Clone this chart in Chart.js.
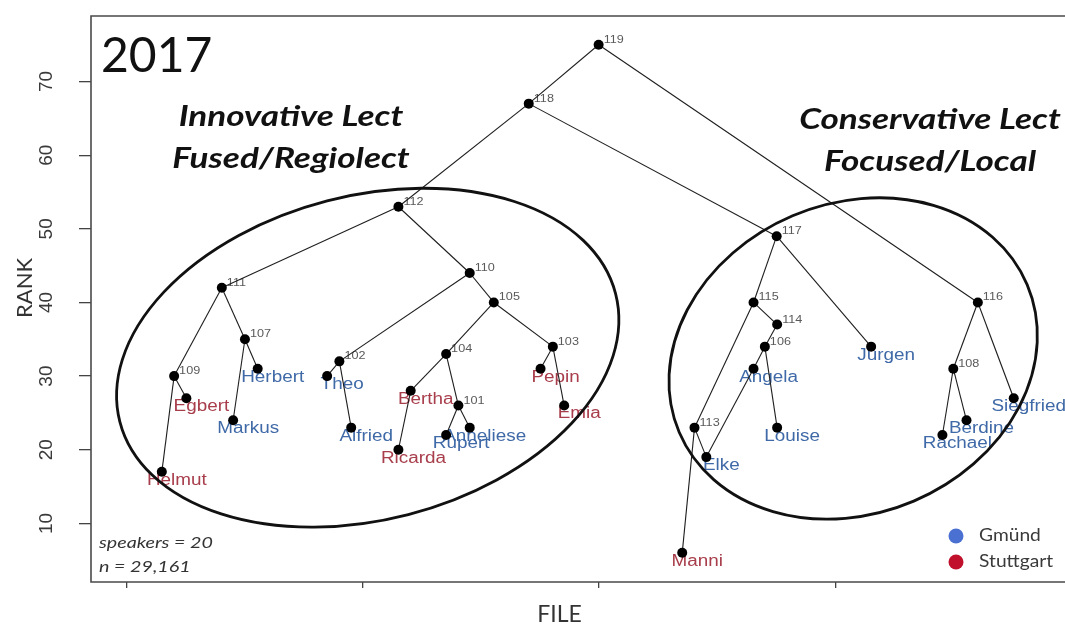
<!DOCTYPE html>
<html>
<head>
<meta charset="utf-8">
<script src="https://cdn.jsdelivr.net/npm/chart.js@4.4.1/dist/chart.umd.min.js"></script>
<style>
html,body{margin:0;padding:0;background:#fff;}
#wrap{width:1065px;height:627px;position:relative;}
</style>
</head>
<body>
<div id="wrap"><canvas id="c" width="1065" height="627"></canvas></div>
<script>
// ---------- data ----------
const leafNames  = ['Helmut','Egbert','Markus','Herbert','Theo','Alfried','Ricarda','Bertha','Rupert','Anneliese','Pepin','Emia','Manni','Elke','Angela','Louise','Jürgen','Rachael','Berdine','Siegfried'];
const leafRegion = ['Stuttgart','Stuttgart','Gmünd','Gmünd','Gmünd','Gmünd','Stuttgart','Stuttgart','Gmünd','Gmünd','Stuttgart','Stuttgart','Stuttgart','Gmünd','Gmünd','Gmünd','Gmünd','Gmünd','Gmünd','Gmünd'];
const leafFile   = [5.74,6.26,7.25,7.77,9.24,9.75,10.75,11.01,11.76,12.26,13.76,14.26,16.76,17.27,18.27,18.77,20.76,22.27,22.78,23.78];
const leafRank   = [17,27,24,31,30,23,20,28,22,23,31,26,6,19,31,23,34,22,24,27];

const nodeIds    = [101,102,103,104,105,106,107,108,109,110,111,112,113,114,115,116,117,118,119];
const nodeFile   = [12.02,9.50,14.02,11.76,12.77,18.51,7.50,22.50,6.00,12.26,7.01,10.75,17.02,18.77,18.27,23.02,18.76,13.51,14.99];
const nodeRank   = [26,32,34,33,40,34,35,31,30,44,42,53,23,37,40,40,49,67,75];

const edgeFrom = ['119','119','118','118','112','112','111','111','109','109','107','107','110','110','102','102','105','105','104','104','Bertha','101','101','103','103','117','117','115','115','114','106','106','Angela','113','113','116','116','108','108'];
const edgeTo   = ['118','116','112','117','111','110','109','107','Helmut','Egbert','Markus','Herbert','102','105','Theo','Alfried','104','103','Bertha','101','Ricarda','Rupert','Anneliese','Pepin','Emia','115','Jürgen','113','114','106','Angela','Louise','Elke','Manni','Elke','108','Siegfried','Rachael','Berdine'];

const xTicks = [5,10,15,20];
const yTicks = [10,20,30,40,50,60,70];
const regions = ['Gmünd','Stuttgart'];

const yearLabel = '2017';
const groupTitles = [['Innovative Lect','Fused/Regiolect'],['Conservative Lect','Focused/Local']];
const noteLines = ['speakers = 20','n = 29,161'];
const xTitle = 'FILE';
const yTitle = 'RANK';

// ---------- styles ----------
const regionTextColor = {'Gmünd':'#3f69a7','Stuttgart':'#a83d4b'};
const regionDotColor  = {'Gmünd':'#4a70d2','Stuttgart':'#c0102c'};
// ellipse specs: centre in data units, radii (px) and tilt
const ellipses = [
  {cx:10.1, cy:32.5, a:256, b:162, rot:-14.5},
  {cx:20.38, cy:32.4, a:189, b:155, rot:-23}
];

// ---------- build ----------
const lookup = {};
leafNames.forEach((n,i)=>{ lookup[n] = {x:leafFile[i], y:leafRank[i]}; });
nodeIds.forEach((id,i)=>{ lookup[String(id)] = {x:nodeFile[i], y:nodeRank[i]}; });

const edgeSets = edgeFrom.map((f,i)=>({
  type:'scatter',
  data:[{...lookup[f]},{...lookup[edgeTo[i]]}],
  showLine:true, borderColor:'#1e1e1e', borderWidth:1.1,
  pointRadius:0, pointHoverRadius:0, order:2
}));

const pointSet = {
  type:'scatter',
  data: nodeIds.map((id,i)=>({x:nodeFile[i],y:nodeRank[i]})).concat(leafNames.map((n,i)=>({x:leafFile[i],y:leafRank[i]}))),
  backgroundColor:'#000', borderWidth:0, pointRadius:5, pointHoverRadius:5, order:1
};

function stretchedText(ctx, txt, x, y, sx){
  ctx.save(); ctx.translate(x,y); ctx.scale(sx,1); ctx.fillText(txt,0,0); ctx.restore();
}

const overlay = {
  id:'overlay',
  beforeDatasetsDraw(chart){
    const ctx = chart.ctx, xs = chart.scales.x, ys = chart.scales.y;
    ctx.save();
    // leaf labels
    ctx.font = '16px "Liberation Sans", Arial, sans-serif';
    ctx.textAlign = 'center'; ctx.textBaseline = 'middle';
    leafNames.forEach((n,i)=>{
      const px = xs.getPixelForValue(leafFile[i]), py = ys.getPixelForValue(leafRank[i]);
      ctx.fillStyle = regionTextColor[leafRegion[i]];
      stretchedText(ctx, n, px+15, py+8.5, 1.18);
    });
    // node labels
    ctx.font = '11.5px "Liberation Sans", Arial, sans-serif';
    ctx.textAlign = 'left'; ctx.textBaseline = 'alphabetic';
    ctx.fillStyle = '#5a5a5a';
    nodeIds.forEach((id,i)=>{
      const px = xs.getPixelForValue(nodeFile[i]), py = ys.getPixelForValue(nodeRank[i]);
      stretchedText(ctx, String(id), px+5, py-2, 1.1);
    });
    ctx.restore();
  },
  afterDatasetsDraw(chart){
    const ctx = chart.ctx, xs = chart.scales.x, ys = chart.scales.y;
    ctx.save();
    ctx.strokeStyle = '#111'; ctx.lineWidth = 2.8;
    ellipses.forEach(e=>{
      ctx.beginPath();
      ctx.ellipse(xs.getPixelForValue(e.cx), ys.getPixelForValue(e.cy), e.a, e.b, e.rot*Math.PI/180, 0, Math.PI*2);
      ctx.stroke();
    });
    ctx.restore();
  },
  afterDraw(chart){
    const ctx = chart.ctx, ca = chart.chartArea, ys = chart.scales.y;
    ctx.save();
    // box (left, top, bottom)
    ctx.strokeStyle = '#4a4a4a'; ctx.lineWidth = 1.6;
    ctx.beginPath();
    ctx.moveTo(chart.width, ca.top); ctx.lineTo(ca.left, ca.top); ctx.lineTo(ca.left, ca.bottom); ctx.lineTo(chart.width, ca.bottom);
    ctx.stroke();
    // y tick labels (rotated)
    ctx.fillStyle = '#3a3a3a';
    ctx.font = '19px "Liberation Sans", Arial, sans-serif';
    ctx.textAlign = 'center'; ctx.textBaseline = 'middle';
    yTicks.forEach(v=>{
      ctx.save(); ctx.translate(ca.left-44, ys.getPixelForValue(v)); ctx.rotate(-Math.PI/2);
      ctx.fillText(String(v),0,0); ctx.restore();
    });
    // axis titles
    ctx.fillStyle = '#333';
    ctx.font = '22px Lato, "Open Sans", sans-serif';
    ctx.save(); ctx.translate(25, 288); ctx.rotate(-Math.PI/2); ctx.fillText(yTitle,0,0); ctx.restore();
    ctx.font = '23px Lato, "Open Sans", sans-serif';
    ctx.fillText(xTitle, 559.5, 615);
    // year
    ctx.fillStyle = '#111';
    ctx.font = '48px Lato, "Open Sans", sans-serif';
    ctx.textAlign = 'left'; ctx.textBaseline = 'alphabetic';
    ctx.fillText(yearLabel, 101, 72);
    // group titles
    ctx.font = 'italic bold 29px Lato, "Open Sans", sans-serif';
    ctx.textAlign = 'center'; ctx.textBaseline = 'middle';
    stretchedText(ctx, groupTitles[0][0], 291, 117, 1.21);
    stretchedText(ctx, groupTitles[0][1], 291, 159, 1.21);
    stretchedText(ctx, groupTitles[1][0], 930, 120, 1.21);
    stretchedText(ctx, groupTitles[1][1], 930, 162, 1.21);
    // note
    ctx.fillStyle = '#333';
    ctx.font = 'italic 16px Lato, "Open Sans", sans-serif';
    ctx.textAlign = 'left';
    stretchedText(ctx, noteLines[0], 99, 543, 1.23);
    stretchedText(ctx, noteLines[1], 99, 567, 1.23);
    // legend
    regions.forEach((r,i)=>{
      const cy = 536 + i*26;
      ctx.fillStyle = regionDotColor[r];
      ctx.beginPath(); ctx.arc(956, cy, 7.5, 0, Math.PI*2); ctx.fill();
      ctx.fillStyle = '#3a3a3a';
      ctx.font = '17px Lato, "Open Sans", sans-serif';
      stretchedText(ctx, r, 979, cy, 1.13);
    });
    ctx.restore();
  }
};

new Chart(document.getElementById('c'), {
  type:'scatter',
  data:{ datasets: edgeSets.concat([pointSet]) },
  options:{
    responsive:false, devicePixelRatio:1, animation:false,
    layout:{ padding:{ left:79, top:16, right:0, bottom:39 } },
    plugins:{ legend:{display:false}, tooltip:{enabled:false} },
    events:[],
    scales:{
      x:{ type:'linear', min:4.24, max:24.76,
          afterBuildTicks:s=>{ s.ticks = xTicks.map(v=>({value:v})); },
          ticks:{display:false},
          grid:{display:true, drawOnChartArea:false, drawTicks:true, tickLength:6, color:'#444', lineWidth:1.3},
          border:{display:false} },
      y:{ type:'linear', min:2.04, max:78.9,
          afterBuildTicks:s=>{ s.ticks = yTicks.map(v=>({value:v})); },
          ticks:{display:false},
          grid:{display:true, drawOnChartArea:false, drawTicks:true, tickLength:12, color:'#444', lineWidth:1.3},
          border:{display:false} }
    }
  },
  plugins:[overlay]
});
</script>
</body>
</html>
